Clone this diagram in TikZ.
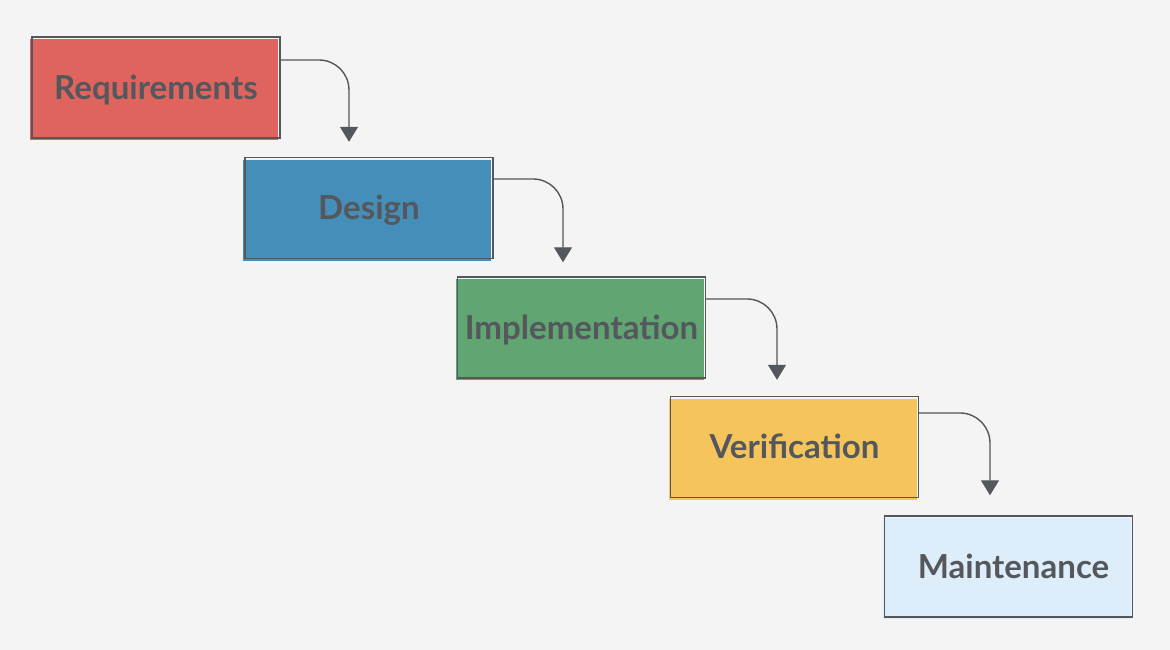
\documentclass[tikz,border=0pt]{standalone}
\usepackage{fontspec}
\setmainfont{Lato}
\usetikzlibrary{arrows.meta,shadows}

\definecolor{bgcol}{HTML}{F4F4F4}
\definecolor{inkcol}{HTML}{54575C}
\definecolor{reqcol}{HTML}{E0645E}
\definecolor{descol}{HTML}{458EBA}
\definecolor{impcol}{HTML}{60A572}
\definecolor{vercol}{HTML}{F5C55C}
\definecolor{maicol}{HTML}{DDEEFA}

\tikzset{
    phase/.style={draw=inkcol, line width=0.8pt, minimum width=4.96cm, minimum height=2.02cm,
        inner sep=0pt, text=inkcol, font=\fontsize{18.8}{22}\selectfont\bfseries,
        text height=0.48cm, text depth=0cm,
        general shadow={fill=#1, shadow xshift=-0.04cm, shadow yshift=-0.05cm}},
    flow/.style={draw=inkcol, line width=0.8pt, rounded corners=0.6cm,
        -{Triangle[width=0.36cm,length=0.3cm]}}
}

\begin{document}
\begin{tikzpicture}

    %% Background
    \fill[bgcol] (0,0) rectangle (23.4,13);
    \useasboundingbox (0,0) rectangle (23.4,13);

    %% Phases
    \node[phase=reqcol] (req) at (3.12,11.25) {Requirements};
    \node[phase=descol] (des) at (7.38,8.84) {Design};
    \node[phase=impcol] (imp) at (11.63,6.45) {Implementation};
    \node[phase=vercol] (ver) at (15.89,4.06) {Verification};
    \node[phase=maicol] (mai) at (20.17,1.67) {\hspace*{0.2cm}Maintenance};

    %% Steps down the waterfall
    \draw[flow] ([yshift=0.55cm]req.east) -| ([xshift=-0.4cm,yshift=0.3cm]des.north);
    \draw[flow] ([yshift=0.58cm]des.east) -| ([xshift=-0.37cm,yshift=0.28cm]imp.north);
    \draw[flow] ([yshift=0.57cm]imp.east) -| ([xshift=-0.35cm,yshift=0.32cm]ver.north);
    \draw[flow] ([yshift=0.68cm]ver.east) -| ([xshift=-0.37cm,yshift=0.4cm]mai.north);

\end{tikzpicture}
\end{document}
